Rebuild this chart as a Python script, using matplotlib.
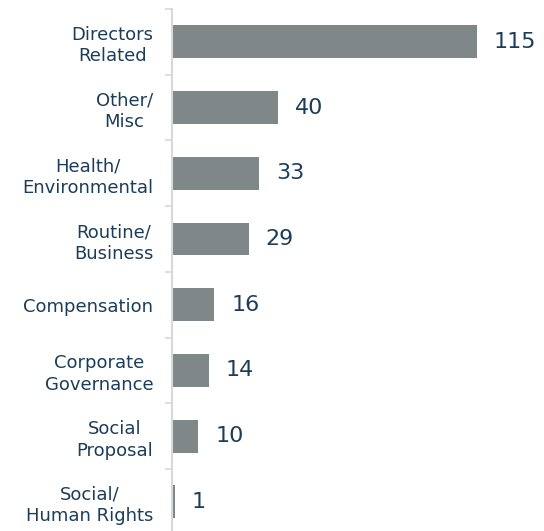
import matplotlib.pyplot as plt
import numpy as np

categories = ["Directors\nRelated", "Other/\nMisc", "Health/\nEnvironmental", "Routine/\nBusiness",
              "Compensation", "Corporate\nGovernance", "Social\nProposal", "Social/\nHuman Rights"]
counts = [115, 40, 33, 29, 16, 14, 10, 1]

bar_color = "#7f8789"
text_color = "#1c3d5a"
axis_color = "#d8d8d8"

fig = plt.figure(figsize=(5.44, 5.31), dpi=100)
ax = fig.add_axes([0.316, -0.007, 0.684, 0.99])

y = np.arange(len(categories))
ax.barh(y, counts, height=0.5, color=bar_color)
ax.set_ylim(len(categories) - 0.5, -0.5)
ax.set_xlim(0, 140.3)

for yi, v in zip(y, counts):
    ax.text(v + 6.4, yi, str(v), va="center", ha="left", fontsize=16, color=text_color)

ax.set_yticks(y)
ax.set_yticklabels(categories, fontsize=13, color=text_color, linespacing=1.25,
                   multialignment="center")
ax.tick_params(axis="y", which="major", length=0, pad=13.5)
ax.set_yticks(np.arange(-0.5, len(categories), 1), minor=True)
ax.tick_params(axis="y", which="minor", length=5, width=1.2, color=axis_color)
ax.set_xticks([])

for side in ["top", "right", "bottom"]:
    ax.spines[side].set_visible(False)
ax.spines["left"].set_color(axis_color)
ax.spines["left"].set_linewidth(1.5)

fig.savefig("out.png", dpi=100)
